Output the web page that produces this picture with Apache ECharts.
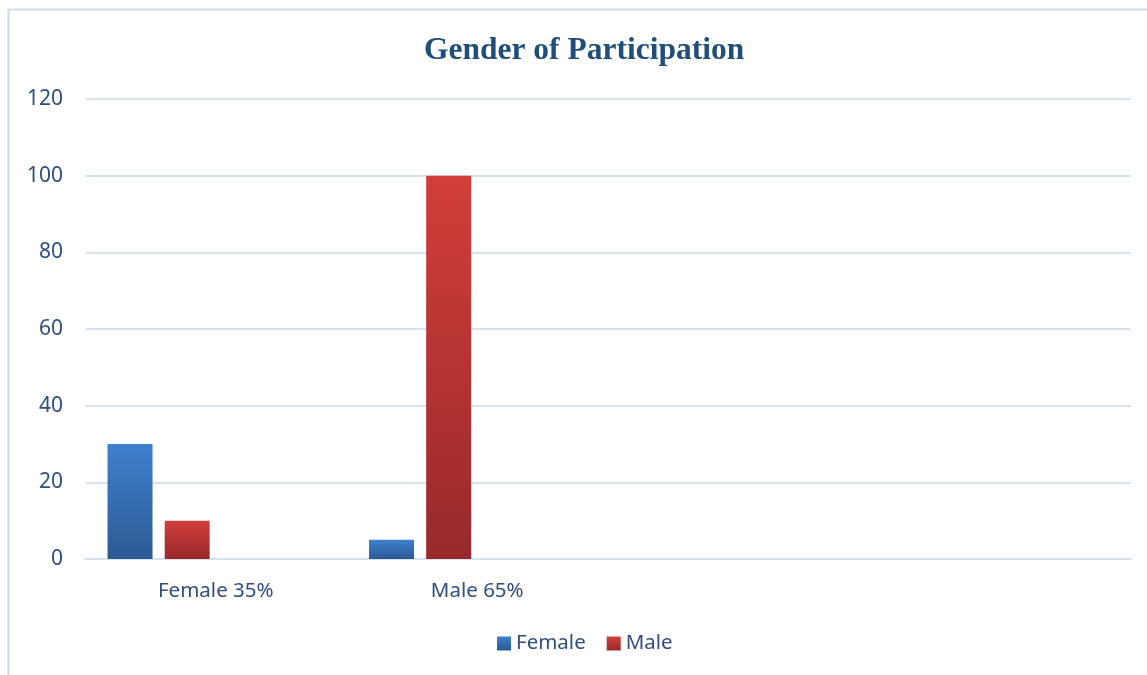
<!DOCTYPE html>
<html>
<head>
<meta charset="utf-8">
<script src="https://cdn.jsdelivr.net/npm/echarts@6/dist/echarts.min.js"></script>
<style>
  html, body { margin: 0; padding: 0; background: #fff; }
  #main { width: 1147px; height: 675px; }
</style>
</head>
<body>
<div id="main"></div>
<script>
// categories (the two trailing slots are empty in the original chart)
const categories = ['Female 35%', 'Male 65%', '', '']
const femaleValues = [30, 5, null, null]
const maleValues = [10, 100, null, null]
const yTicks = { min: 0, max: 120, interval: 20 }

const labelColor = '#2F4E7C'
const gridColor = '#D5E2F1'

const grad = (top, bottom) => new echarts.graphic.LinearGradient(0, 0, 0, 1, [
  { offset: 0, color: top },
  { offset: 1, color: bottom }
])

const myChart = echarts.init(document.getElementById('main'))
myChart.setOption({
  animation: false,
  title: {
    text: 'Gender of Participation',
    left: 419,
    top: 30,
    textStyle: {
      fontFamily: 'Liberation Serif',
      fontWeight: 'bold',
      fontSize: 31.5,
      color: '#1F4E79'
    }
  },
  graphic: [
    {
      type: 'polyline',
      shape: { points: [[8.5, 675], [8.5, 9.5], [1147, 9.5]] },
      style: { stroke: '#C9DBEF', lineWidth: 2, fill: null }
    }
  ],
  legend: {
    data: ['Female', 'Male'],
    bottom: 16,
    left: 492,
    itemWidth: 14,
    itemHeight: 14,
    itemGap: 21,
    icon: 'rect',
    textStyle: { fontFamily: 'Noto Sans', fontSize: 20.5, color: labelColor }
  },
  grid: { left: 85, right: 16, top: 99, bottom: 116 },
  xAxis: {
    type: 'category',
    data: categories,
    axisLine: { lineStyle: { color: gridColor, width: 2 } },
    axisTick: { show: false },
    axisLabel: { fontFamily: 'Noto Sans', fontSize: 20.5, color: labelColor, margin: 22 }
  },
  yAxis: {
    type: 'value',
    min: yTicks.min,
    max: yTicks.max,
    interval: yTicks.interval,
    axisLine: { show: false },
    axisTick: { show: false },
    splitLine: { lineStyle: { color: gridColor, width: 2 } },
    axisLabel: { fontFamily: 'Noto Sans', fontSize: 21, color: labelColor, margin: 22 }
  },
  series: [
    {
      name: 'Female',
      type: 'bar',
      data: femaleValues,
      barWidth: 45,
      barGap: '27%',
      itemStyle: { color: grad('#3F80CE', '#2C5A94') }
    },
    {
      name: 'Male',
      type: 'bar',
      data: maleValues,
      barWidth: 45,
      itemStyle: { color: grad('#D23E3A', '#98292A') }
    },
    // two empty series that hold the unused bar slots in each category
    { name: 'S3', type: 'bar', data: [], barWidth: 45 },
    { name: 'S4', type: 'bar', data: [], barWidth: 45 }
  ]
})
</script>
</body>
</html>
